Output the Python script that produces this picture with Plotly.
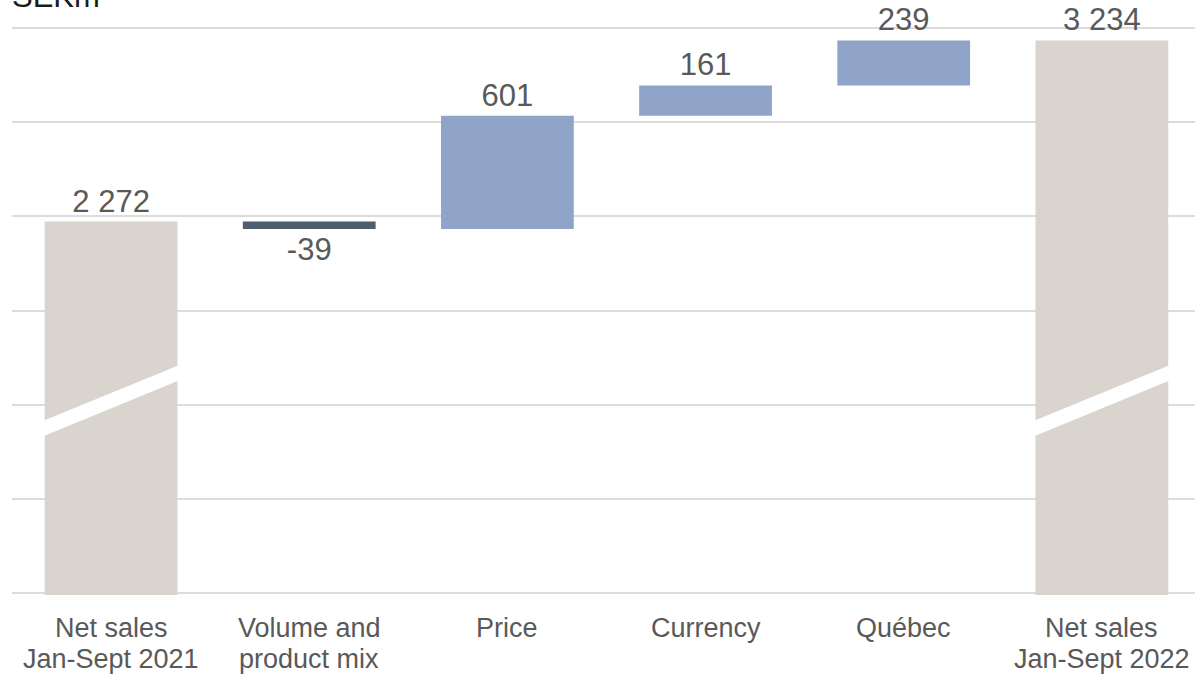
import plotly.graph_objects as go

# Net sales bridge, SEKm
categories = [
    "Net sales<br>Jan-Sept 2021",
    "Volume and<br>product mix",
    "Price",
    "Currency",
    "Québec",
    "Net sales<br>Jan-Sept 2022",
]
measures = ["absolute", "relative", "relative", "relative", "relative", "total"]
values = [2272, -39, 601, 161, 239, 0]

TOTAL_COLOR = "#d9d5ce"
UP_COLOR = "#8fa4c7"
DOWN_COLOR = "#4e5e6d"
TEXT_COLOR = "#595959"
GRID_COLOR = "#dcdcdc"
FONT = "Liberation Sans, Arial, sans-serif"


def fmt(v):
    s = f"{abs(v):,}".replace(",", " ")
    return ("-" if v < 0 else "") + s


# running totals for the bar labels
labels = []
running = 0
for m, v in zip(measures, values):
    if m == "absolute":
        running = v
        labels.append(fmt(v))
    elif m == "relative":
        running += v
        labels.append(fmt(v))
    else:
        labels.append(fmt(running))

fig = go.Figure(
    go.Waterfall(
        x=categories,
        y=values,
        measure=measures,
        text=labels,
        textposition="outside",
        outsidetextfont=dict(family=FONT, size=31, color=TEXT_COLOR),
        cliponaxis=False,
        connector=dict(visible=False),
        increasing=dict(marker=dict(color=UP_COLOR)),
        decreasing=dict(marker=dict(color=DOWN_COLOR)),
        totals=dict(marker=dict(color=TOTAL_COLOR)),
        hoverinfo="skip",
    )
)

# axis break: a white slanted band across each total bar
Y_MIN, Y_MAX, PAD = 300, 3300, 10.6
half_w = 0.335
band = dict(y_left_top=1213, y_right_top=1511, thickness=82)
for i, m in enumerate(measures):
    if m in ("absolute", "total"):
        x0, x1 = i - half_w - 0.01, i + half_w + 0.01
        yl, yr, t = band["y_left_top"], band["y_right_top"], band["thickness"]
        fig.add_shape(
            type="path",
            xref="x", yref="y",
            path=f"M {x0} {yl} L {x1} {yr} L {x1} {yr - t} L {x0} {yl - t} Z",
            fillcolor="white",
            line=dict(width=0),
            layer="above",
        )

# category labels, one annotation per line for tighter line spacing
LINE_PITCH = 31
for i, cat in enumerate(categories):
    for k, line in enumerate(cat.split("<br>")):
        fig.add_annotation(
            text=line,
            xref="x", yref="paper",
            x=i, y=0, xanchor="center", yanchor="top",
            yshift=-16 - k * LINE_PITCH,
            showarrow=False,
            font=dict(family=FONT, size=27, color=TEXT_COLOR),
        )

fig.add_annotation(
    text="SEKm",
    xref="paper", yref="paper",
    x=0, y=1, xanchor="left", yanchor="bottom",
    xshift=-2, yshift=10,
    showarrow=False,
    font=dict(family=FONT, size=31, color="#1a1a1a"),
)

fig.update_layout(
    width=1195,
    height=675,
    margin=dict(l=12, r=0, t=26, b=80),
    paper_bgcolor="white",
    plot_bgcolor="white",
    waterfallgap=0.33,
    showlegend=False,
    font=dict(family=FONT, color=TEXT_COLOR),
    xaxis=dict(
        range=[-0.5, 5.47],
        showgrid=False,
        showline=False,
        ticks="",
        showticklabels=False,
    ),
    yaxis=dict(
        range=[Y_MIN - PAD, Y_MAX + PAD],
        tick0=Y_MIN,
        dtick=500,
        showgrid=True,
        gridcolor=GRID_COLOR,
        gridwidth=2,
        zeroline=False,
        showline=False,
        showticklabels=False,
        ticks="",
    ),
)

fig.write_html("out.html")
